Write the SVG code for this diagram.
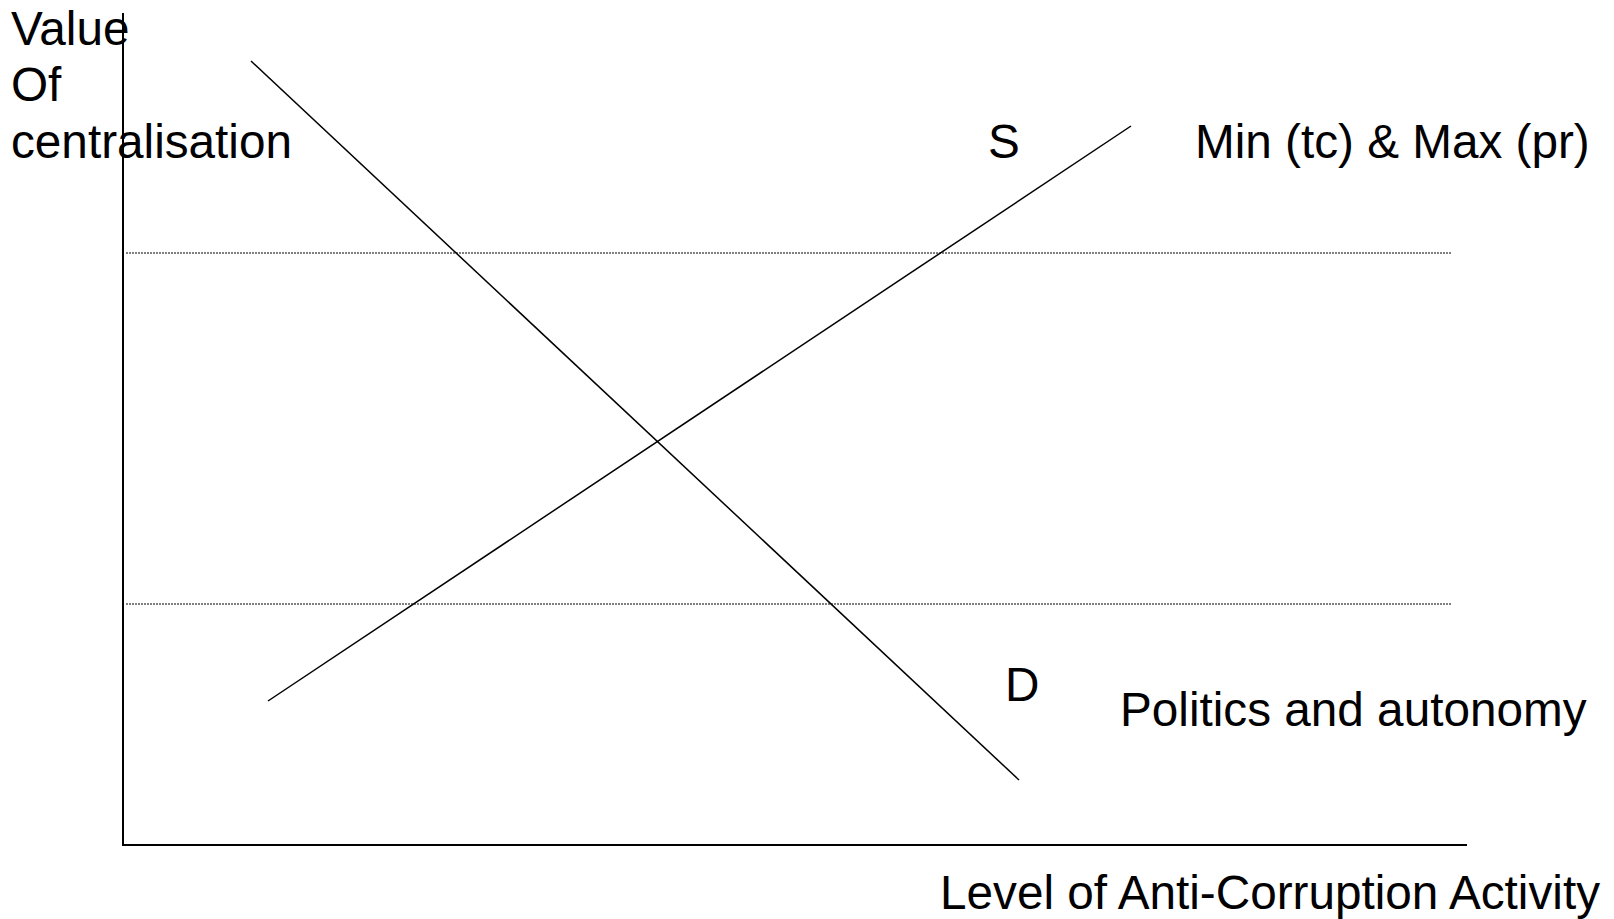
<svg xmlns="http://www.w3.org/2000/svg" width="1614" height="919" viewBox="0 0 1614 919">
<style>
.t{font-family:"Liberation Sans",Arial,sans-serif;font-size:47.7px;fill:#000}
.ax{stroke:#000;stroke-width:2;fill:none}
.ln{stroke:#000;stroke-width:1.5;fill:none}
.dt{stroke:#000;stroke-width:1;stroke-dasharray:2 1;fill:none}
</style>
<rect width="1614" height="919" fill="#fff"/>
<g id="connectors">
<line class="ax" x1="123" y1="13" x2="123" y2="845"/>
<line class="ax" x1="122" y1="845" x2="1467" y2="845"/>
<line class="dt" x1="126" y1="253" x2="1451" y2="253"/>
<line class="dt" x1="126" y1="604" x2="1451" y2="604"/>
<line id="demand" class="ln" x1="251" y1="61" x2="1019" y2="780"/>
<line id="supply" class="ln" x1="268" y1="701" x2="1131" y2="126"/>
</g>
<g id="y-label"><text class="t" x="11" y="45">Value</text><text class="t" x="11" y="101">Of</text><text class="t" x="11" y="158">centralisation</text></g>
<g id="s-label"><text class="t" x="988" y="158">S</text></g>
<g id="top-label"><text class="t" x="1195" y="158">Min (tc) &amp; Max (pr)</text></g>
<g id="d-label"><text class="t" x="1005" y="701">D</text></g>
<g id="bottom-label"><text class="t" x="1120" y="726">Politics and autonomy</text></g>
<g id="x-label"><text class="t" x="940" y="909">Level of Anti-Corruption Activity</text></g>
</svg>
